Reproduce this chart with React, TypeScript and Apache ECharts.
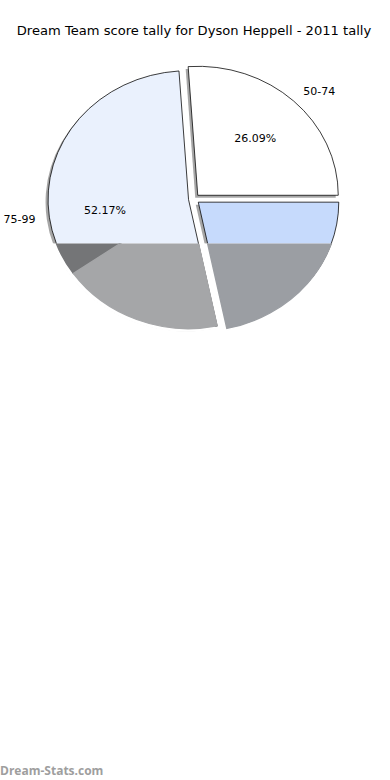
import React, { useEffect, useRef } from "react";
import * as echarts from "echarts";

// ---- data ----
const titleText = "Dream Team score tally for Dyson Heppell - 2011 tally";
const categories = ["50-74", "75-99", "100-124"];
const values = [6, 12, 5];
const showLabel = [true, true, false];
const watermark = "Dream-Stats.com";

// ---- styles ----
const sliceColors = ["#ffffff", "#eaf1fd", "#c6dafc"];
const lowerColors = ["#a5a6a8", "#a5a6a8", "#9b9ea3"];
const lowerDark = "#747577";
// fraction (of whole pie) where the lower dark band ends inside slice 2
const lowerDarkEnd = 0.597;

// ---- layout ----
const CX = 194;
const CY = 199;
const RX = 140.5;
const RY = 129;
const EXPLODE = 5.5;
const CUT_Y = 243.5;

function App() {
  const ref = useRef<HTMLDivElement>(null);
  useEffect(() => {
    if (!ref.current) return;
    const chart = echarts.init(ref.current, null, { renderer: "svg" });
    const total = values.reduce((a, b) => a + b, 0);
    const k = RY / RX;

    const sector = (cx: number, cy: number, a1: number, a2: number, style: any, extra: any = {}) => ({
      type: "sector",
      shape: {
        cx,
        cy,
        r: RX,
        r0: 0,
        startAngle: (-a2 * Math.PI) / 180,
        endAngle: (-a1 * Math.PI) / 180,
        clockwise: true,
      },
      originX: cx,
      originY: cy,
      scaleY: k,
      style,
      ...extra,
    });

    const renderItem = (params: any, api: any) => {
      const i = params.dataIndex;
      let before = 0;
      for (let j = 0; j < i; j++) before += values[j];
      const a1 = (before / total) * 360;
      const a2 = ((before + values[i]) / total) * 360;
      const mid = (((a1 + a2) / 2) * Math.PI) / 180;
      const cx = CX + EXPLODE * Math.cos(mid);
      const cy = CY - EXPLODE * Math.sin(mid) * k;
      const W = api.getWidth();
      const H = api.getHeight();

      const children: any[] = [];
      // shadow
      children.push(
        sector(cx, cy, a1, a2, { fill: "#000", opacity: 0.35 }, { x: -2.5, y: 2.5, z2: 0, silent: true })
      );
      // main wedge
      children.push(
        sector(cx, cy, a1, a2, { fill: sliceColors[i], stroke: "#000", lineWidth: 0.8 }, { z2: 2 })
      );
      // lower shaded band
      const lowerChildren: any[] = [];
      lowerChildren.push(
        sector(cx, cy, a1, a2, { fill: "#ffffff", stroke: "#ffffff", lineWidth: 1.5 }, { x: -2.5, y: 2.5, z2: 3 })
      );
      const darkEndDeg = lowerDarkEnd * 360;
      if (darkEndDeg > a1 && darkEndDeg < a2) {
        lowerChildren.push(
          sector(cx, cy, a1, darkEndDeg, { fill: lowerDark, stroke: lowerDark, lineWidth: 1.4 }, { z2: 4 })
        );
        lowerChildren.push(
          sector(cx, cy, darkEndDeg, a2, { fill: lowerColors[i], stroke: lowerColors[i], lineWidth: 1.4 }, { z2: 4 })
        );
      } else {
        lowerChildren.push(
          sector(cx, cy, a1, a2, { fill: lowerColors[i], stroke: lowerColors[i], lineWidth: 1.4 }, { z2: 4 })
        );
      }
      children.push({
        type: "group",
        children: lowerChildren,
        clipPath: { type: "rect", shape: { x: 0, y: CUT_Y, width: W, height: H - CUT_Y } },
      });

      if (showLabel[i]) {
        const lx = cx + 1.1 * RX * Math.cos(mid);
        const ly = cy - 1.1 * RY * Math.sin(mid);
        children.push({
          type: "text",
          z2: 10,
          style: {
            text: categories[i],
            x: lx,
            y: ly,
            fill: "#000",
            fontSize: 11,
            fontFamily: "DejaVu Sans",
            align: Math.cos(mid) >= 0 ? "left" : "right",
            verticalAlign: "middle",
          },
        });
        const px = cx + 0.6 * RX * Math.cos(mid);
        const py = cy - 0.6 * RY * Math.sin(mid);
        children.push({
          type: "text",
          z2: 10,
          style: {
            text: ((values[i] / total) * 100).toFixed(2) + "%",
            x: px,
            y: py,
            fill: "#000",
            fontSize: 11,
            fontFamily: "DejaVu Sans",
            align: "center",
            verticalAlign: "middle",
          },
        });
      }
      return { type: "group", children };
    };

    chart.setOption({
      animation: false,
      backgroundColor: "#ffffff",
      graphic: [
        {
          type: "text",
          x: 194,
          y: 30,
          style: {
            text: titleText,
            fill: "#000",
            fontSize: 13.1,
            fontFamily: "DejaVu Sans",
            align: "center",
            verticalAlign: "middle",
          },
        },
        {
          type: "text",
          x: 0,
          y: 770,
          style: {
            text: watermark,
            fill: "#9e9e9e",
            fontSize: 12,
            fontWeight: "bold",
            fontFamily: "Open Sans",
            align: "left",
            verticalAlign: "middle",
          },
        },
      ],
      series: [
        {
          type: "custom",
          coordinateSystem: "none",
          renderItem,
          data: values.map((v, i) => [i, v]),
        },
      ],
    });
    return () => chart.dispose();
  }, []);
  return (
    <div
      ref={ref}
      style={{ position: "fixed", left: 0, top: 0, width: 390, height: 780, background: "#fff" }}
    />
  );
}

export default App;
